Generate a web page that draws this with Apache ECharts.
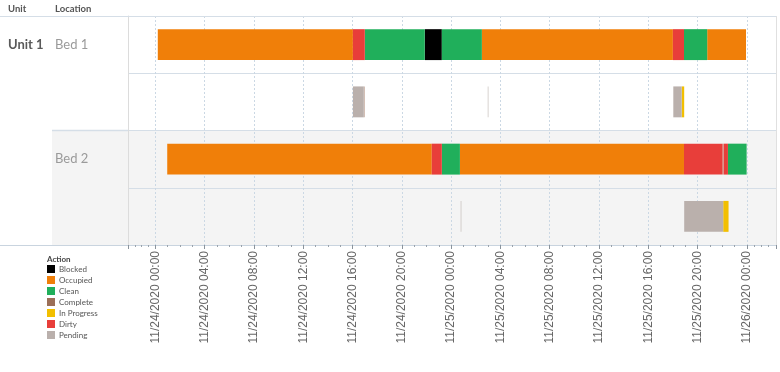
<!DOCTYPE html>
<html><head><meta charset="utf-8">
<script src="https://cdn.jsdelivr.net/npm/echarts@6/dist/echarts.min.js"></script>
<style>html,body{margin:0;padding:0;background:#fff}#c{width:780px;height:372px}</style>
</head><body><div id="c"></div>
<script>
// ---- data ----
const unitName = 'Unit 1';
const headerUnit = 'Unit';
const headerLocation = 'Location';
const legendTitle = 'Action';
const locations = ['Bed 1', 'Bed 2'];
const rowNames = ['Bed 1', 'Bed 1 detail', 'Bed 2', 'Bed 2 detail'];
const actions = ['Blocked', 'Occupied', 'Clean', 'Complete', 'In Progress', 'Dirty', 'Pending'];
const actionColors = ['#000000', '#F07F09', '#20AF5B', '#9C6F58', '#F2BF00', '#E83E3A', '#BAB0AC'];
const axisMin = '2020-11-23 21:47';
const axisMax = '2020-11-26 02:22';
// segments: [rowIndex, start, end]
const blocked = [[0, '2020-11-24 21:52', '2020-11-24 23:15']];
const occupied = [
  [0, '2020-11-24 00:12', '2020-11-24 16:02'], [0, '2020-11-25 02:30', '2020-11-25 18:00'],
  [0, '2020-11-25 20:47', '2020-11-25 23:56'], [2, '2020-11-24 00:58', '2020-11-24 22:26'],
  [2, '2020-11-25 00:43', '2020-11-25 18:54']];
const clean = [
  [0, '2020-11-24 17:00', '2020-11-24 21:52'], [0, '2020-11-24 23:15', '2020-11-25 02:30'],
  [0, '2020-11-25 18:54', '2020-11-25 20:47'], [2, '2020-11-24 23:15', '2020-11-25 00:43'],
  [2, '2020-11-25 22:28', '2020-11-25 23:59']];
const complete = [[1, '2020-11-24 16:55', '2020-11-24 17:00'], [2, '2020-11-25 22:02', '2020-11-25 22:07']];
const inProgress = [[1, '2020-11-25 18:43', '2020-11-25 18:55'], [3, '2020-11-25 22:05', '2020-11-25 22:31']];
const dirty = [
  [0, '2020-11-24 16:02', '2020-11-24 17:00'], [0, '2020-11-25 18:00', '2020-11-25 18:54'],
  [2, '2020-11-24 22:26', '2020-11-24 23:15'], [2, '2020-11-25 18:54', '2020-11-25 22:02'],
  [2, '2020-11-25 22:07', '2020-11-25 22:28']];
const pending = [
  [1, '2020-11-24 16:02', '2020-11-24 16:55'], [1, '2020-11-25 02:58', '2020-11-25 03:03'],
  [1, '2020-11-25 18:02', '2020-11-25 18:43'], [3, '2020-11-25 00:46', '2020-11-25 00:51'],
  [3, '2020-11-25 18:55', '2020-11-25 22:05']];
const actionData = [blocked, occupied, clean, complete, inProgress, dirty, pending];

// ---- chart ----
function toTime(s) {
  const [dp, tp] = s.split(' ');
  const [Y, M, D] = dp.split('-').map(Number);
  const [h, m] = tp.split(':').map(Number);
  return new Date(Y, M - 1, D, h, m).getTime();
}
const HOUR = 3600 * 1000;
function pad(n) { return (n < 10 ? '0' : '') + n; }
function fmt(v) {
  const d = new Date(v);
  if (d.getMinutes() !== 0 || d.getSeconds() !== 0 || d.getHours() % 4 !== 0) return '';
  return pad(d.getMonth() + 1) + '/' + pad(d.getDate()) + '/' + d.getFullYear() + ' ' + pad(d.getHours()) + ':' + pad(d.getMinutes());
}
function renderItem(params, api) {
  const r = api.value(0);
  const s = api.coord([api.value(1), r]);
  const e = api.coord([api.value(2), r]);
  const h = api.size([0, 1])[1] * 0.54;
  const w = e[0] - s[0];
  const style = api.style();
  if (w < 2) style.opacity = 0.55;
  return {
    type: 'rect',
    shape: { x: s[0], y: s[1] - h / 2, width: Math.max(w, 1), height: h },
    style: style
  };
}
const chart = echarts.init(document.getElementById('c'), null, { renderer: 'canvas' });
const series = actions.map((name, i) => ({
  name: name,
  type: 'custom',
  renderItem: renderItem,
  itemStyle: { color: actionColors[i] },
  encode: { x: [1, 2], y: 0 },
  data: actionData[i].map(d => [d[0], toTime(d[1]), toTime(d[2])]),
  z: 5
}));
const lineC = '#d5dee7';
chart.setOption({
  animation: false,
  textStyle: { fontFamily: 'Lato' },
  grid: { left: 128, right: 4, top: 16, bottom: 127, containLabel: false },
  xAxis: {
    type: 'time',
    min: toTime(axisMin), max: toTime(axisMax),
    minInterval: 4 * HOUR, maxInterval: 4 * HOUR, splitNumber: 13,
    axisLine: { show: true, lineStyle: { color: '#c9d4df', width: 1 } },
    axisTick: { show: true, length: 4, lineStyle: { color: '#8a939c' } },
    minorTick: { show: true, splitNumber: 4, length: 2, lineStyle: { color: '#9aa3ac' } },
    splitLine: { show: true, lineStyle: { color: '#cbd8e4', type: [2, 2] } },
    axisLabel: {
      rotate: 90, formatter: fmt, fontSize: 12, color: '#666', fontFamily: 'Liberation Sans',
      margin: 6, showMinLabel: false, showMaxLabel: false, hideOverlap: false
    }
  },
  yAxis: {
    type: 'category', data: rowNames, inverse: true,
    axisLine: { show: true, lineStyle: { color: '#dcdcdc' } },
    axisTick: { show: false },
    splitLine: { show: true, lineStyle: { color: lineC } },
    axisLabel: {
      interval: 0, formatter: v => (locations.indexOf(v) >= 0 ? v : ''),
      align: 'left', margin: 73, fontSize: 13, color: '#9a9a9a', fontFamily: 'Lato'
    }
  },
  legend: {
    orient: 'vertical', left: 47, top: 265, padding: 0,
    itemWidth: 8, itemHeight: 8, itemGap: 3, icon: 'rect', selectedMode: false,
    data: actions,
    textStyle: { fontSize: 8, color: '#555', fontFamily: 'Lato', lineHeight: 8, padding: [0, 0, 0, -1] }
  },
  graphic: [
    { type: 'rect', z: -10, silent: true, shape: { x: 52, y: 130, width: 724, height: 115 }, style: { fill: '#f4f4f4' } },
    { type: 'line', z: 1, silent: true, shape: { x1: 0, y1: 16.5, x2: 776, y2: 16.5 }, style: { stroke: lineC, lineWidth: 1 } },
    { type: 'line', z: 1, silent: true, shape: { x1: 52, y1: 130.5, x2: 128, y2: 130.5 }, style: { stroke: lineC, lineWidth: 1.5 } },
    { type: 'line', z: 1, silent: true, shape: { x1: 0, y1: 245.5, x2: 128, y2: 245.5 }, style: { stroke: '#c9d4df', lineWidth: 1 } },
    { type: 'line', z: 1, silent: true, shape: { x1: 776.5, y1: 16, x2: 776.5, y2: 245 }, style: { stroke: '#e0e0e0', lineWidth: 1 } },
    { type: 'text', x: 8, y: 9, style: { text: headerUnit, fontSize: 9.5, fontWeight: 'bold', fill: '#555', fontFamily: 'Lato', verticalAlign: 'middle' } },
    { type: 'text', x: 55, y: 9, style: { text: headerLocation, fontSize: 9.5, fontWeight: 'bold', fill: '#555', fontFamily: 'Lato', verticalAlign: 'middle' } },
    { type: 'text', x: 8, y: 45, style: { text: unitName, fontSize: 13, fontWeight: 'bold', fill: '#5a5a5a', fontFamily: 'Lato', verticalAlign: 'middle' } },
    { type: 'text', x: 47, y: 259, style: { text: legendTitle, fontSize: 8, fontWeight: 'bold', fill: '#444', fontFamily: 'Lato', verticalAlign: 'middle' } }
  ],
  series: series
});
</script></body></html>
